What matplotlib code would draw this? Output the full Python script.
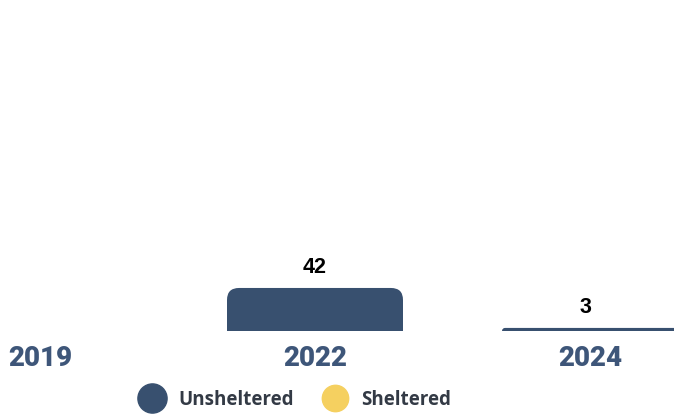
import matplotlib
matplotlib.use("Agg")
import matplotlib.pyplot as plt
from matplotlib.patches import FancyBboxPatch
from matplotlib.lines import Line2D

years = ["2019", "2022", "2024"]
unsheltered = [0, 42, 3]
sheltered = [0, 0, 0]

navy = "#38506f"
yellow = "#f5d060"

fig = plt.figure(figsize=(6.74, 4.16), dpi=100)
ax = fig.add_axes([0, (416 - 331) / 416, 1, 331 / 416])

x = list(range(len(years)))
ax.set_xlim(-40 / 275, 634 / 275)
ax.set_ylim(0, 323)

bar_w = 0.64
r_x = 0.044
aspect = 266

for xi, u, s in zip(x, unsheltered, sheltered):
    total = u + s
    if total <= 0:
        continue
    ext = r_x * aspect
    for bottom, h, col in [(0, u, navy), (u, s, yellow)]:
        if h <= 0:
            continue
        rr = min(r_x, h / aspect)
        p = FancyBboxPatch((xi - bar_w / 2, bottom - ext), bar_w, h + ext,
                           boxstyle=f"round,pad=0,rounding_size={rr}",
                           mutation_aspect=aspect, fc=col, ec="none")
        ax.add_patch(p)
    ax.annotate(str(total), (xi, total), xytext=(-3 if total < 10 else 0, 7.5),
                textcoords="offset points",
                ha="center", va="bottom", fontsize=15.5, fontweight="bold",
                family="Liberation Sans", color="black")

ax.set_xticks(x, years)
ax.tick_params(axis="x", length=0, pad=10, labelsize=20, labelcolor="#3e5679")
for t in ax.get_xticklabels():
    t.set_family("Roboto")
    t.set_fontweight(900)
ax.set_yticks([])
for sp in ax.spines.values():
    sp.set_visible(False)

handles = [Line2D([], [], ls="none", marker="o", ms=21, mfc=navy, mec=navy),
           Line2D([], [], ls="none", marker="o", ms=19, mfc=yellow, mec=yellow)]
fig.legend(handles, ["Unsheltered", "Sheltered"], loc="center",
           bbox_to_anchor=(292 / 674, 1 - 400 / 416), ncol=2, frameon=False,
           prop={"family": "Open Sans", "weight": "bold", "size": 13.5},
           labelcolor="#333a45", handletextpad=0.4, columnspacing=1.2)

fig.savefig("out.png", dpi=100)
